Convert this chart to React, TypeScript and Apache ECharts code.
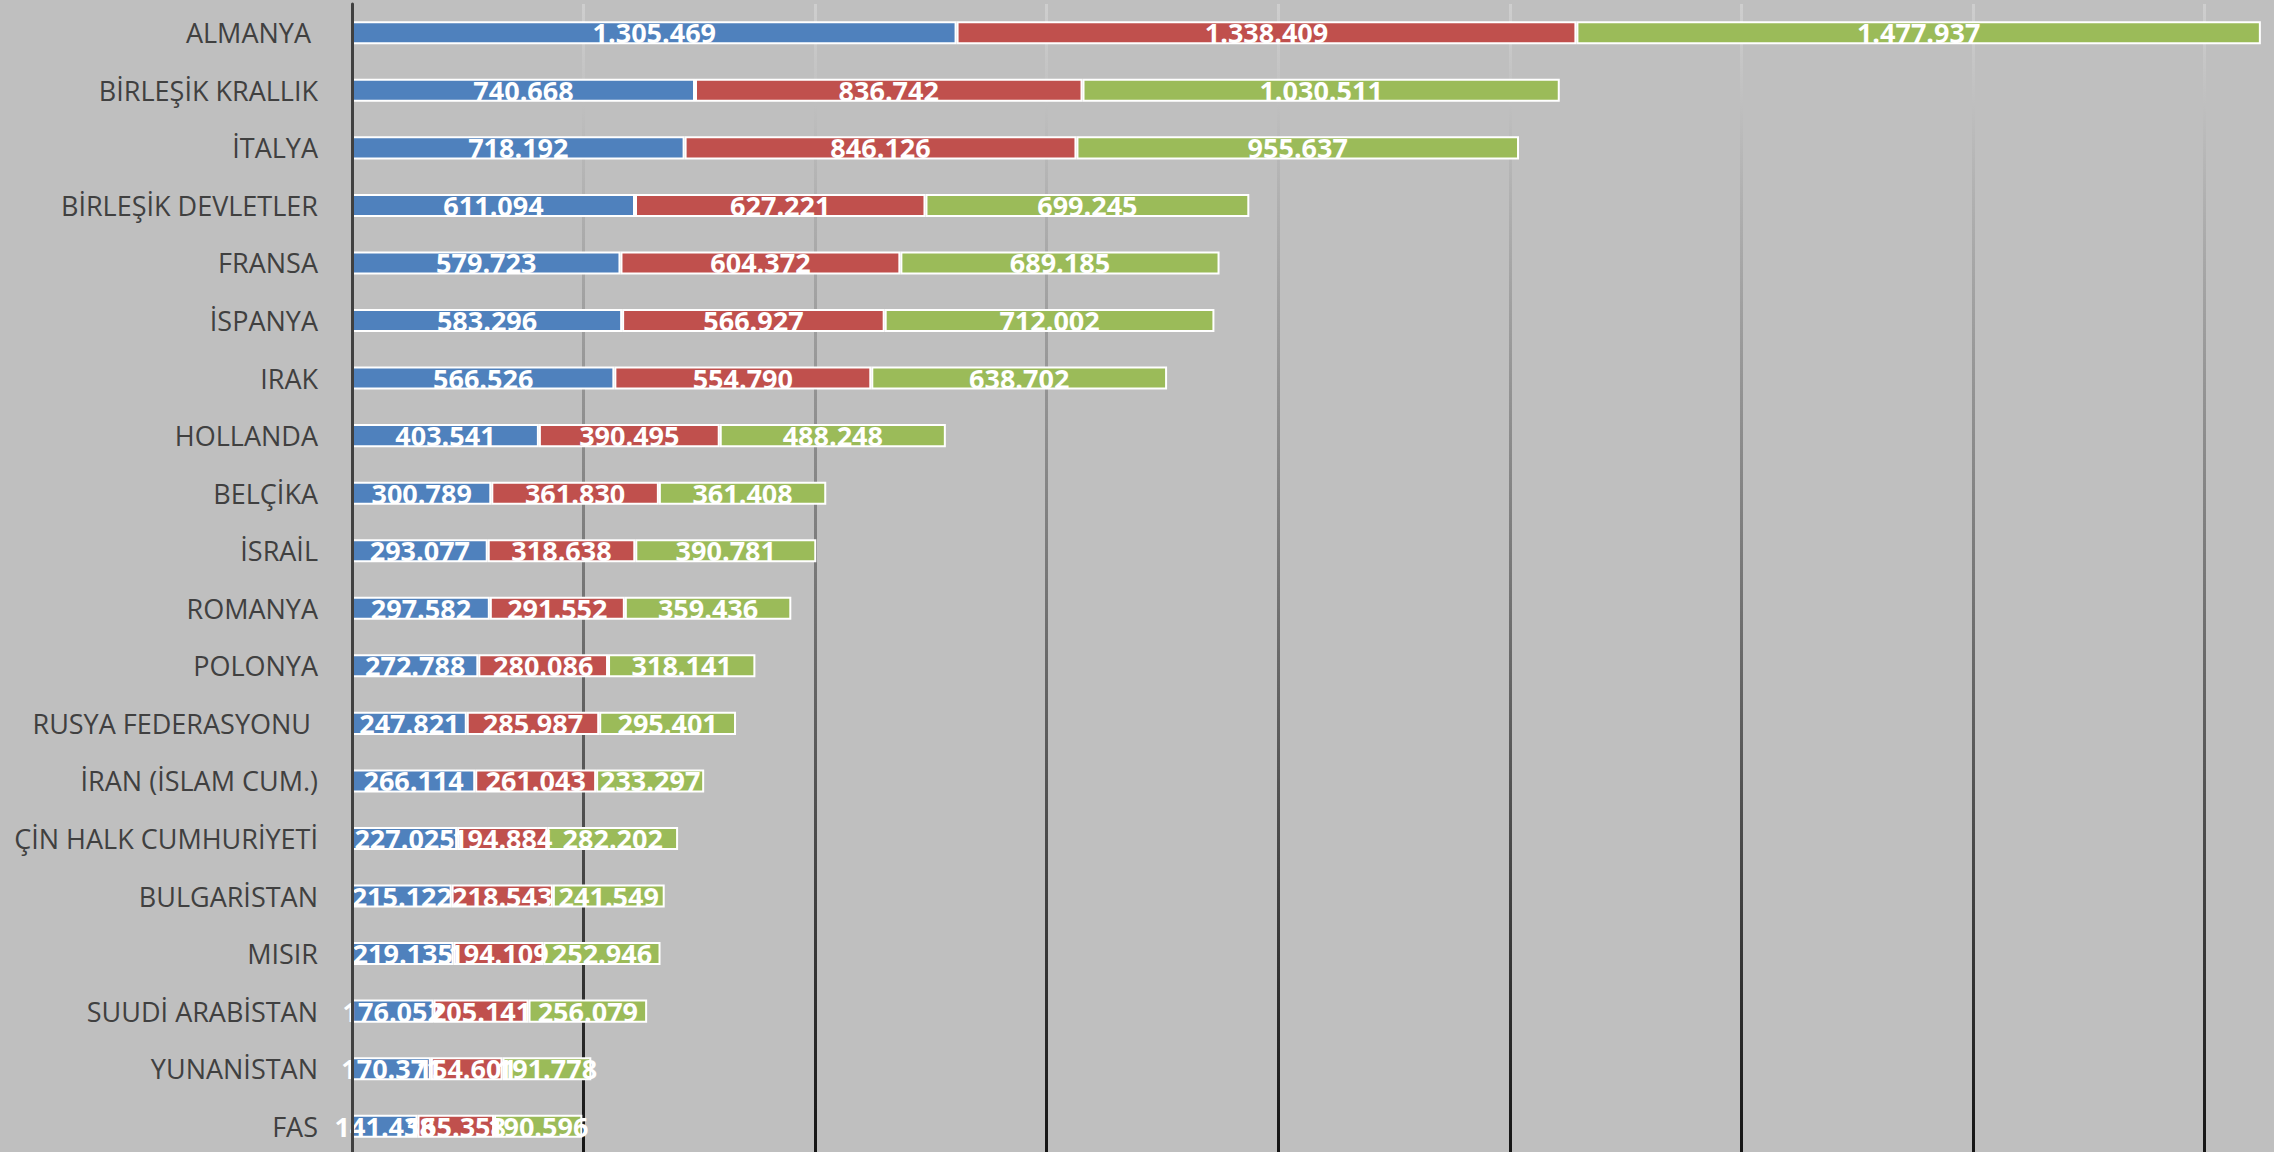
import React, { useEffect, useRef } from "react";
import * as echarts from "echarts";

const categories = [
  "ALMANYA ",
  "BİRLEŞİK KRALLIK",
  "İTALYA",
  "BİRLEŞİK DEVLETLER",
  "FRANSA",
  "İSPANYA",
  "IRAK",
  "HOLLANDA",
  "BELÇİKA",
  "İSRAİL",
  "ROMANYA",
  "POLONYA",
  "RUSYA FEDERASYONU ",
  "İRAN (İSLAM CUM.)",
  "ÇİN HALK CUMHURİYETİ",
  "BULGARİSTAN",
  "MISIR",
  "SUUDİ ARABİSTAN",
  "YUNANİSTAN",
  "FAS",
];

const series1 = [
  1305469, 740668, 718192, 611094, 579723, 583296, 566526, 403541, 300789, 293077,
  297582, 272788, 247821, 266114, 227025, 215122, 219135, 176052, 170371, 141438,
];
const series2 = [
  1338409, 836742, 846126, 627221, 604372, 566927, 554790, 390495, 361830, 318638,
  291552, 280086, 285987, 261043, 194884, 218543, 194109, 205141, 154601, 165358,
];
const series3 = [
  1477937, 1030511, 955637, 699245, 689185, 712002, 638702, 488248, 361408, 390781,
  359436, 318141, 295401, 233297, 282202, 241549, 252946, 256079, 191778, 190596,
];

const colors = ["#4F81BD", "#C0504D", "#9BBB59"];

const fmt = (v: number) => String(v).replace(/\B(?=(\d{3})+(?!\d))/g, ".");

export default function App() {
  const ref = useRef<HTMLDivElement>(null);
  useEffect(() => {
    document.body.style.margin = "0";
    if (!ref.current) return;
    const chart = echarts.init(ref.current, undefined, { renderer: "svg" });
    const mk = (name: string, data: number[], color: string) => ({
      name,
      type: "bar",
      stack: "total",
      data,
      barCategoryGap: "60%",
      itemStyle: { color, borderColor: "#ffffff", borderWidth: 2 },
      label: {
        show: true,
        position: "inside",
        color: "#ffffff",
        fontFamily: "Open Sans",
        fontWeight: "bold",
        fontSize: 27,
        formatter: (p: any) => fmt(p.value),
      },
    });
    chart.setOption({
      animation: false,
      backgroundColor: "#BFBFBF",
      grid: { left: 352, right: 64, top: 4, bottom: 5 },
      xAxis: {
        type: "value",
        min: 0,
        max: 4500000,
        interval: 500000,
        axisLabel: { show: false },
        axisLine: { show: false },
        axisTick: { show: false },
        splitLine: {
          show: true,
          lineStyle: {
            width: 3,
            color: new echarts.graphic.LinearGradient(
              0,
              0,
              0,
              1152,
              [
                { offset: 0, color: "#cfcfcf" },
                { offset: 0.5, color: "#777777" },
                { offset: 1, color: "#151515" },
              ],
              true
            ),
          },
        },
      },
      yAxis: {
        type: "category",
        data: categories,
        inverse: true,
        z: 3,
        axisLine: { show: true, lineStyle: { color: "#404040", width: 3 } },
        axisTick: { show: false },
        axisLabel: {
          margin: 34,
          color: "#404040",
          fontFamily: "Open Sans",
          fontSize: 27,
        },
      },
      series: [
        mk("s1", series1, colors[0]),
        mk("s2", series2, colors[1]),
        mk("s3", series3, colors[2]),
      ],
    });
    return () => chart.dispose();
  }, []);
  return (
    <div style={{ width: 2274, height: 1152, overflow: "hidden", background: "#BFBFBF" }}>
      <div ref={ref} style={{ width: 2500, height: 1160 }} />
    </div>
  );
}
